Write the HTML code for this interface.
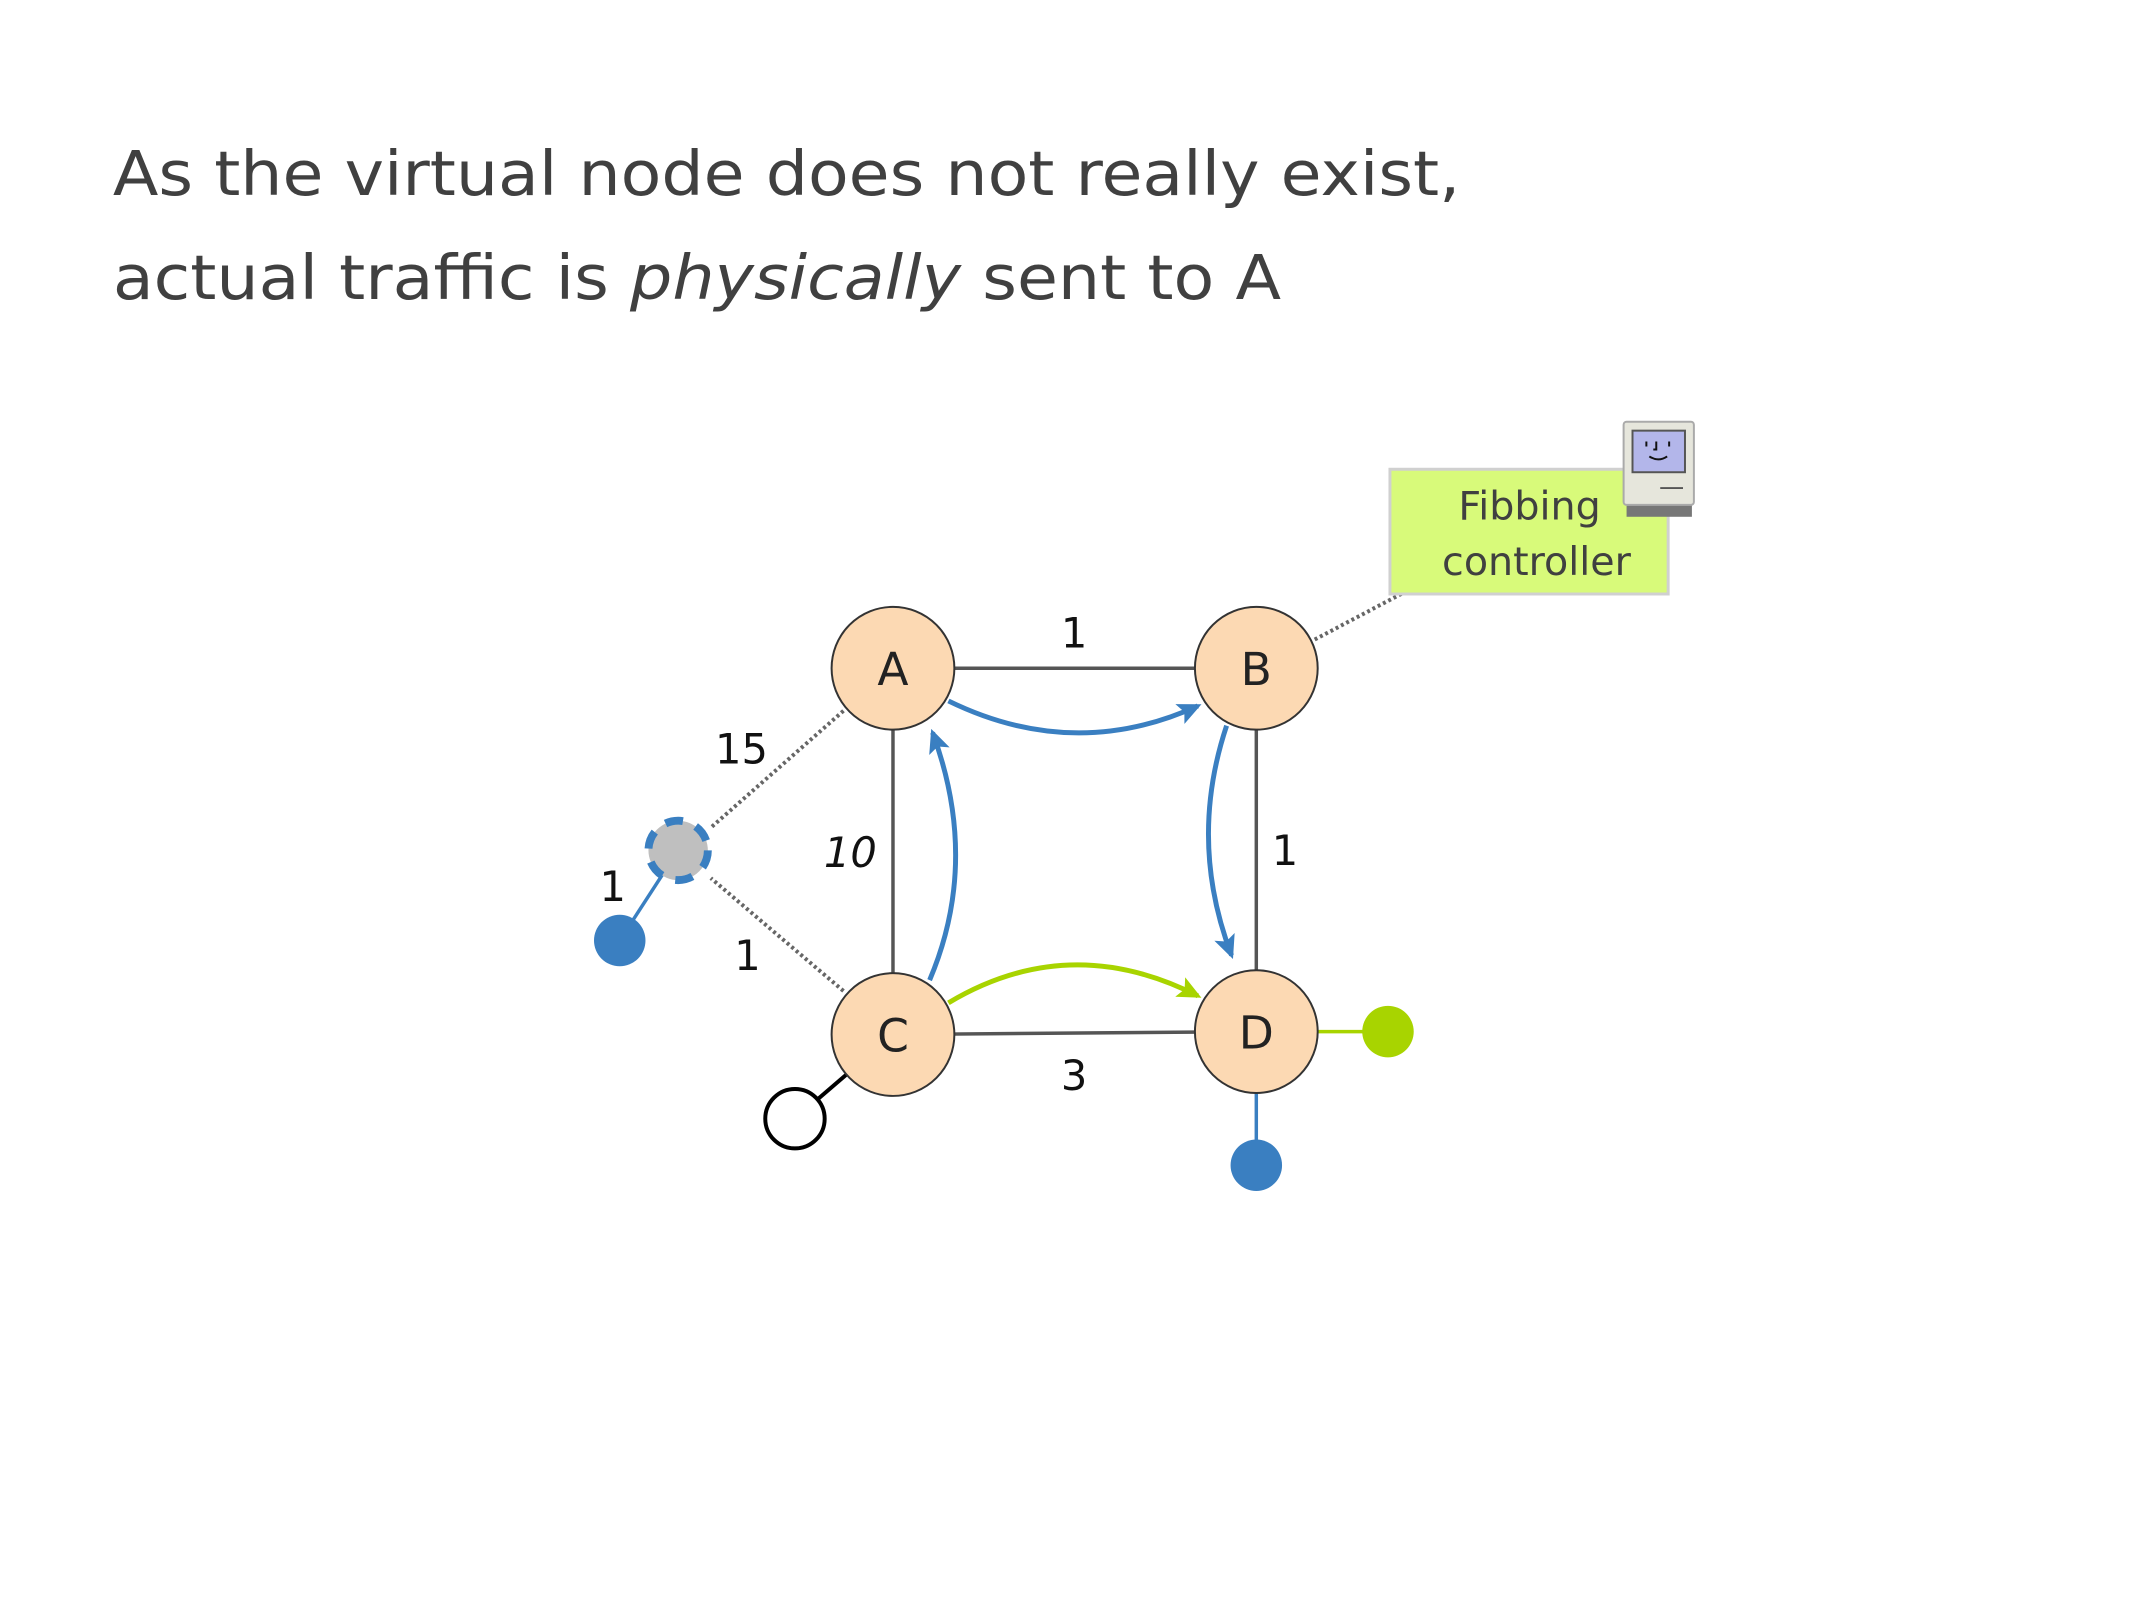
<!DOCTYPE html>
<html><head><meta charset="utf-8"><style>
html,body{margin:0;padding:0;background:#fff;}
svg{display:block;}
</style></head><body>
<svg width="2134" height="1600" viewBox="0 0 2134 1600" xmlns="http://www.w3.org/2000/svg" font-family="'DejaVu Sans','Liberation Sans',sans-serif">
<defs>
<marker id="ab" markerWidth="24" markerHeight="22" refX="20" refY="11" orient="auto" markerUnits="userSpaceOnUse" viewBox="0 0 24 22"><path d="M0,0 L24,11 L0,22 L5,11 z" fill="#3a7fc1"/></marker>
<marker id="ag" markerWidth="24" markerHeight="22" refX="20" refY="11" orient="auto" markerUnits="userSpaceOnUse" viewBox="0 0 24 22"><path d="M0,0 L24,11 L0,22 L5,11 z" fill="#a8d400"/></marker>
</defs>
<g transform="scale(0.99)">
<text x="114" y="197" font-size="62" fill="#404040" textLength="1361" lengthAdjust="spacingAndGlyphs">As the virtual node does not really exist,</text>
<text x="114" y="302" font-size="62" fill="#404040" textLength="1180" lengthAdjust="spacingAndGlyphs">actual traffic is <tspan font-style="italic">physically</tspan> sent to A</text>

<g stroke="#666" stroke-width="4" stroke-dasharray="3,3" fill="none">
<line x1="852" y1="718" x2="718" y2="836"/>
<line x1="852" y1="1001" x2="718" y2="887"/>
<line x1="1328" y1="646" x2="1419" y2="598"/>
</g>
<g stroke="#555" stroke-width="3.5" fill="none">
<line x1="902" y1="675" x2="1269" y2="675"/>
<line x1="902" y1="675" x2="902" y2="1045"/>
<line x1="1269" y1="675" x2="1269" y2="1042"/>
<line x1="902" y1="1045" x2="1269" y2="1042"/>
</g>
<line x1="685" y1="859" x2="626" y2="950" stroke="#3a7fc1" stroke-width="3.5"/>
<line x1="1269" y1="1042" x2="1402" y2="1042" stroke="#a8d400" stroke-width="3.5"/>
<line x1="1269" y1="1042" x2="1269" y2="1177" stroke="#3a7fc1" stroke-width="3.5"/>
<line x1="902" y1="1045" x2="803" y2="1130" stroke="#000" stroke-width="4"/>

<circle cx="626" cy="950" r="26" fill="#3a7fc1"/>
<circle cx="1402" cy="1042" r="26" fill="#a8d400"/>
<circle cx="1269" cy="1177" r="26" fill="#3a7fc1"/>
<circle cx="803" cy="1130" r="30" fill="#fff" stroke="#000" stroke-width="4"/>

<circle cx="685" cy="859" r="30" fill="#bfbfbf" stroke="#3a7fc1" stroke-width="8" stroke-dasharray="18,14"/>

<g fill="#fcd9b3" stroke="#333" stroke-width="2">
<circle cx="902" cy="675" r="62"/>
<circle cx="1269" cy="675" r="62"/>
<circle cx="902" cy="1045" r="62"/>
<circle cx="1269" cy="1042" r="62"/>
</g>
<g font-size="46" fill="#222" text-anchor="middle">
<text x="902" y="692">A</text>
<text x="1269" y="692">B</text>
<text x="902" y="1062">C</text>
<text x="1269" y="1059">D</text>
</g>

<g fill="none" stroke-width="5">
<path d="M958,708 Q1085,770 1210,713" stroke="#3a7fc1" marker-end="url(#ab)"/>
<path d="M939,990 Q990,870 942,740" stroke="#3a7fc1" marker-end="url(#ab)"/>
<path d="M1239,733 Q1200,850 1244,965" stroke="#3a7fc1" marker-end="url(#ab)"/>
<path d="M958,1013 Q1080,940 1210,1006" stroke="#a8d400" marker-end="url(#ag)"/>
</g>

<g font-size="42" fill="#111" text-anchor="middle">
<text x="1085" y="654">1</text>
<text x="749" y="771">15</text>
<text x="859" y="876" font-style="italic">10</text>
<text x="1298" y="874">1</text>
<text x="619" y="910">1</text>
<text x="755" y="980">1</text>
<text x="1085" y="1101">3</text>
</g>

<rect x="1404" y="474" width="281" height="126" fill="#d8fa7a" stroke="#d0d0d0" stroke-width="3"/>
<text x="1545" y="525" font-size="40" fill="#404040" text-anchor="middle">Fibbing</text>
<text x="1552" y="581" font-size="40" fill="#404040" text-anchor="middle">controller</text>
<g transform="translate(17,5)">
<rect x="1626" y="503" width="66" height="14" fill="#777"/>
<rect x="1623" y="421" width="71" height="84" rx="3" fill="#e6e6dc" stroke="#aaa" stroke-width="2"/>
<rect x="1632" y="430" width="53" height="42" fill="#b3b6ea" stroke="#555" stroke-width="2"/>
<path d="M1646,441 v5 M1656,441 v8 h-3 M1669,441 v5 M1649,456 q9,6 18,0" stroke="#111" stroke-width="2" fill="none"/>
<line x1="1660" y1="488" x2="1683" y2="488" stroke="#555" stroke-width="2"/>
</g>
</g>
</svg>
</body></html>
